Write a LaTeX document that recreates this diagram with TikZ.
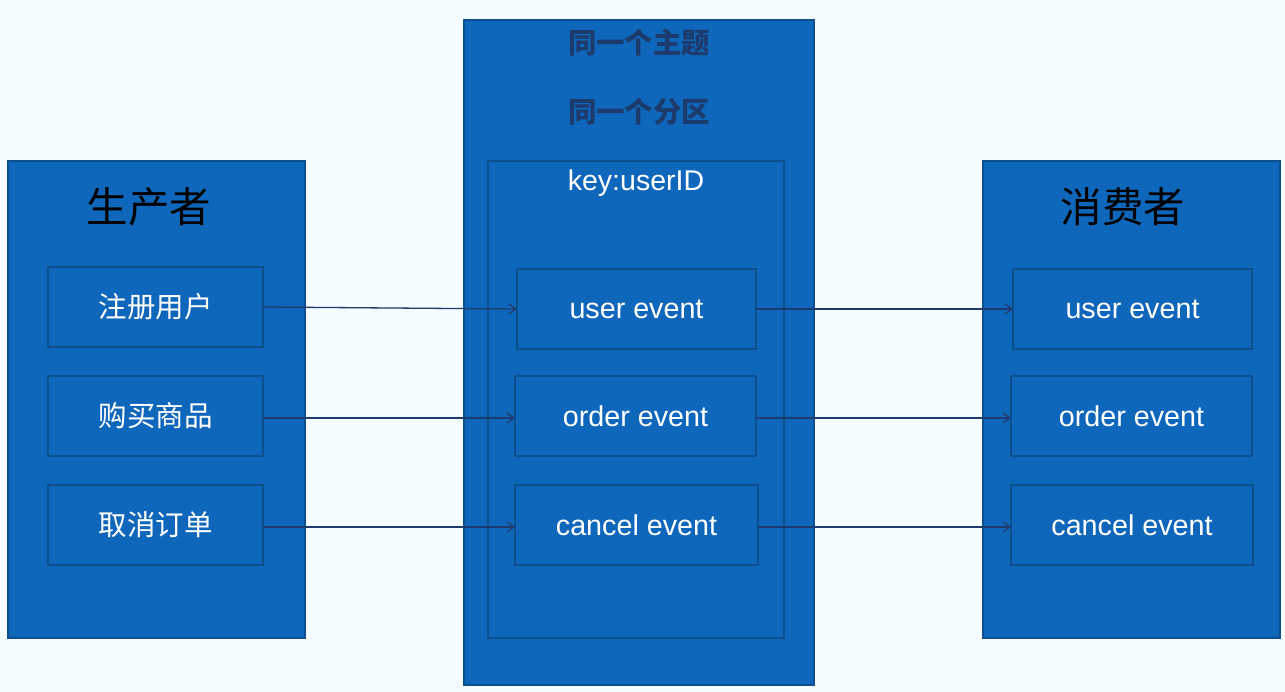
\documentclass[tikz,border=0pt]{standalone}
\usepackage{fontspec}
\setmainfont{Liberation Sans}
\newfontfamily\cjk{Noto Sans CJK SC}
\usetikzlibrary{arrows.meta}
\definecolor{bg}{HTML}{F5FCFF}
\definecolor{boxblue}{HTML}{0F67BB}
\definecolor{boxedge}{HTML}{0B4F8F}
\definecolor{flowcol}{HTML}{1F3A6E}
\definecolor{titlecol}{HTML}{1C3A6B}
\tikzset{
  panel/.style={draw=boxedge, fill=boxblue, line width=1.5pt, inner sep=0pt, outer sep=0pt},
  item/.style={draw=boxedge, line width=1.5pt, inner sep=0pt, outer sep=0pt,
    minimum height=80pt, text=white, font=\fontsize{28.7}{32}\selectfont},
  flow/.style={draw=flowcol, line width=1.3pt, -{Straight Barb[length=7pt,width=10pt]}}
}
\begin{document}
\begin{tikzpicture}[x=1pt,y=-1pt]
\fill[bg] (0,0) rectangle (1285,692);
\useasboundingbox (0,0) rectangle (1285,692);
% producer
\node[panel, minimum width=297pt, minimum height=477pt] (producer) at (156.5,399.5) {};
\node[font=\cjk\fontsize{41.5}{45}\selectfont] (ptitle) at (149,207) {生产者};
\node[item, minimum width=215pt, font=\cjk\fontsize{28.5}{32}\selectfont] (p1) at (155.5,307) {注册用户};
\node[item, minimum width=215pt, font=\cjk\fontsize{28.5}{32}\selectfont] (p2) at (155.5,416) {购买商品};
\node[item, minimum width=215pt, font=\cjk\fontsize{28.5}{32}\selectfont] (p3) at (155.5,525) {取消订单};
% topic and partition
\node[panel, minimum width=350pt, minimum height=665pt] (topic) at (639,352.5) {};
\node[text=titlecol, font=\cjk\bfseries\fontsize{28.4}{32}\selectfont] (ttitle) at (639,43) {同一个主题};
\node[text=titlecol, font=\cjk\bfseries\fontsize{28.4}{32}\selectfont] (stitle) at (639,112) {同一个分区};
\node[draw=boxedge, line width=1.5pt, minimum width=296pt, minimum height=477pt, inner sep=0pt] (part) at (636,399.5) {};
\node[text=white, font=\fontsize{28.5}{32}\selectfont] (key) at (636,183) {key:userID};
\node[item, minimum width=239pt] (e1) at (636.5,309) {user event};
\node[item, minimum width=241pt] (e2) at (635.5,416) {order event};
\node[item, minimum width=243pt] (e3) at (636.5,525) {cancel event};
% consumer
\node[panel, minimum width=297pt, minimum height=477pt] (consumer) at (1131.5,399.5) {};
\node[font=\cjk\fontsize{41.5}{45}\selectfont] (ctitle) at (1123,207) {消费者};
\node[item, minimum width=239pt] (c1) at (1132.5,309) {user event};
\node[item, minimum width=241pt] (c2) at (1131.5,416) {order event};
\node[item, minimum width=242pt] (c3) at (1132,525) {cancel event};
% arrows
\draw[flow] (p1.east) -- (e1.west);
\draw[flow] (p2.east |- 0,418) -- (e2.west |- 0,418);
\draw[flow] (p3.east |- 0,527) -- (e3.west |- 0,527);
\draw[flow] (e1.east) -- (c1.west);
\draw[flow] (e2.east |- 0,418) -- (c2.west |- 0,418);
\draw[flow] (e3.east |- 0,527) -- (c3.west |- 0,527);
\end{tikzpicture}
\end{document}
